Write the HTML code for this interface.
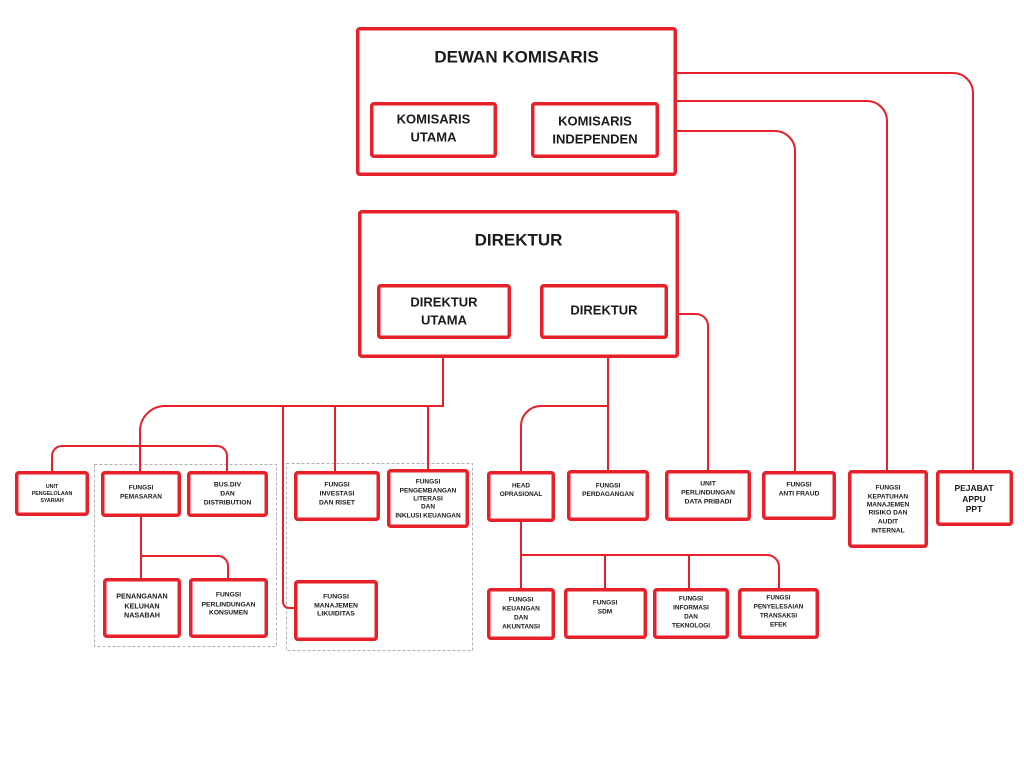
<!DOCTYPE html>
<html><head><meta charset="utf-8"><style>
html,body{margin:0;padding:0;background:#fff;}
svg{display:block;}
text{font-family:"Liberation Sans",sans-serif;font-weight:bold;fill:#1a1a1a;text-anchor:middle;dominant-baseline:central;}
.b{fill:#fff;stroke:#e8202a;stroke-width:3.5;}
.l{fill:none;stroke:#e8202a;stroke-width:2;}
.d{fill:none;stroke:#b0b0b0;stroke-width:1;stroke-dasharray:3,2;}
</style></head><body>
<svg width="1024" height="768" viewBox="0 0 1024 768" xmlns="http://www.w3.org/2000/svg">
<!-- dashed groups -->
<rect class="d" x="94.5" y="464.5" width="182" height="182"/>
<rect class="d" x="286.5" y="463.5" width="186" height="187"/>

<!-- connectors -->
<path class="l" d="M677,73 H953 A20,20 0 0 1 973,93 V470"/>
<path class="l" d="M677,101 H867 A20,20 0 0 1 887,121 V470"/>
<path class="l" d="M677,131 H775 A20,20 0 0 1 795,151 V471"/>
<path class="l" d="M679,314 H696 A12,12 0 0 1 708,326 V470"/>
<path class="l" d="M443,339 V406 H165 A25,25 0 0 0 140,431 V471"/>
<path class="l" d="M283,406 V602 A6,6 0 0 0 289,608 H295"/>
<path class="l" d="M335,406 V471"/>
<path class="l" d="M428,406 V469"/>
<path class="l" d="M52,471 V456 A10,10 0 0 1 62,446 H217 A10,10 0 0 1 227,456 V471"/>
<path class="l" d="M141,516 V578"/>
<path class="l" d="M141,556 H218 A10,10 0 0 1 228,566 V578"/>
<path class="l" d="M608,339 V470"/>
<path class="l" d="M608,406 H541 A20,20 0 0 0 521,426 V471"/>
<path class="l" d="M521,521 V588"/>
<path class="l" d="M521,555 H767 A12,12 0 0 1 779,567 V588"/>
<path class="l" d="M605,555 V588"/>
<path class="l" d="M689,555 V588"/>

<!-- top boxes -->
<rect class="b" x="357.75" y="28.75" width="317.5" height="145.5" rx="2"/>
<text x="516.5" y="57" font-size="17">DEWAN KOMISARIS</text>
<rect class="b" x="371.75" y="103.75" width="123.5" height="52.5" rx="2"/>
<text x="433.5" y="119" font-size="13">KOMISARIS</text>
<text x="433.5" y="137" font-size="13">UTAMA</text>
<rect class="b" x="532.75" y="103.75" width="124.5" height="52.5" rx="2"/>
<text x="595" y="121" font-size="13">KOMISARIS</text>
<text x="595" y="139" font-size="13">INDEPENDEN</text>

<rect class="b" x="359.75" y="211.75" width="317.5" height="144.5" rx="2"/>
<text x="518.5" y="240" font-size="17">DIREKTUR</text>
<rect class="b" x="378.75" y="285.75" width="130.5" height="51.5" rx="2"/>
<text x="444" y="302" font-size="13">DIREKTUR</text>
<text x="444" y="320" font-size="13">UTAMA</text>
<rect class="b" x="541.75" y="285.75" width="124.5" height="51.5" rx="2"/>
<text x="604" y="310" font-size="13">DIREKTUR</text>

<!-- row 1 -->
<rect class="b" x="16.75" y="472.75" width="70.5" height="41.5" rx="2"/>
<text x="52" y="487" font-size="5.3">UNIT</text>
<text x="52" y="494" font-size="5.3">PENGELOLAAN</text>
<text x="52" y="501" font-size="5.3">SYARIAH</text>

<rect class="b" x="102.75" y="472.75" width="76.5" height="42.5" rx="2"/>
<text x="141" y="488" font-size="6.5">FUNGSI</text>
<text x="141" y="497" font-size="6.5">PEMASARAN</text>

<rect class="b" x="188.75" y="472.75" width="77.5" height="42.5" rx="2"/>
<text x="227.5" y="485" font-size="6.7">BUS.DIV</text>
<text x="227.5" y="494" font-size="6.7">DAN</text>
<text x="227.5" y="503" font-size="6.7">DISTRIBUTION</text>

<rect class="b" x="295.75" y="472.75" width="82.5" height="46.5" rx="2"/>
<text x="337" y="485" font-size="6.7">FUNGSI</text>
<text x="337" y="494" font-size="6.7">INVESTASI</text>
<text x="337" y="503" font-size="6.7">DAN  RISET</text>

<rect class="b" x="388.75" y="470.75" width="78.5" height="55.5" rx="2"/>
<text x="428" y="482" font-size="6.5">FUNGSI</text>
<text x="428" y="491" font-size="6.5">PENGEMBANGAN</text>
<text x="428" y="499" font-size="6.5">LITERASI</text>
<text x="428" y="507" font-size="6.5">DAN</text>
<text x="428" y="516" font-size="6.5">INKLUSI KEUANGAN</text>

<rect class="b" x="488.75" y="472.75" width="64.5" height="47.5" rx="2"/>
<text x="521" y="486" font-size="6.4">HEAD</text>
<text x="521" y="494.5" font-size="6.4">OPRASIONAL</text>

<rect class="b" x="568.75" y="471.75" width="78.5" height="47.5" rx="2"/>
<text x="608" y="486" font-size="6.5">FUNGSI</text>
<text x="608" y="494.5" font-size="6.5">PERDAGANGAN</text>

<rect class="b" x="666.75" y="471.75" width="82.5" height="47.5" rx="2"/>
<text x="708" y="484" font-size="6.7">UNIT</text>
<text x="708" y="493" font-size="6.7">PERLINDUNGAN</text>
<text x="708" y="502" font-size="6.7">DATA PRIBADI</text>

<rect class="b" x="763.75" y="472.75" width="70.5" height="45.5" rx="2"/>
<text x="799" y="485" font-size="6.7">FUNGSI</text>
<text x="799" y="494" font-size="6.7">ANTI FRAUD</text>

<rect class="b" x="849.75" y="471.75" width="76.5" height="74.5" rx="2"/>
<text x="888" y="488" font-size="6.6">FUNGSI</text>
<text x="888" y="497" font-size="6.6">KEPATUHAN</text>
<text x="888" y="505" font-size="6.6">MANAJEMEN</text>
<text x="888" y="513" font-size="6.6">RISIKO DAN</text>
<text x="888" y="522" font-size="6.6">AUDIT</text>
<text x="888" y="531" font-size="6.6">INTERNAL</text>

<rect class="b" x="937.75" y="471.75" width="73.5" height="52.5" rx="2"/>
<text x="974" y="488" font-size="8.5">PEJABAT</text>
<text x="974" y="499" font-size="8.5">APPU</text>
<text x="974" y="509" font-size="8.5">PPT</text>

<!-- row 2 -->
<rect class="b" x="104.75" y="579.75" width="74.5" height="56.5" rx="2"/>
<text x="142" y="596" font-size="7.2">PENANGANAN</text>
<text x="142" y="606" font-size="7.2">KELUHAN</text>
<text x="142" y="615" font-size="7.2">NASABAH</text>

<rect class="b" x="190.75" y="579.75" width="75.5" height="56.5" rx="2"/>
<text x="228.5" y="595" font-size="6.7">FUNGSI</text>
<text x="228.5" y="605" font-size="6.7">PERLINDUNGAN</text>
<text x="228.5" y="613" font-size="6.7">KONSUMEN</text>

<rect class="b" x="295.75" y="581.75" width="80.5" height="57.5" rx="2"/>
<text x="336" y="597" font-size="6.8">FUNGSI</text>
<text x="336" y="606" font-size="6.8">MANAJEMEN</text>
<text x="336" y="614" font-size="6.8">LIKUIDITAS</text>

<rect class="b" x="488.75" y="589.75" width="64.5" height="48.5" rx="2"/>
<text x="521" y="600" font-size="6.5">FUNGSI</text>
<text x="521" y="609" font-size="6.5">KEUANGAN</text>
<text x="521" y="618" font-size="6.5">DAN</text>
<text x="521" y="627" font-size="6.5">AKUNTANSI</text>

<rect class="b" x="565.75" y="589.75" width="79.5" height="47.5" rx="2"/>
<text x="605" y="603" font-size="6.5">FUNGSI</text>
<text x="605" y="612" font-size="6.5">SDM</text>

<rect class="b" x="654.75" y="589.75" width="72.5" height="47.5" rx="2"/>
<text x="691" y="599" font-size="6.4">FUNGSI</text>
<text x="691" y="608" font-size="6.4">INFORMASI</text>
<text x="691" y="617" font-size="6.4">DAN</text>
<text x="691" y="626" font-size="6.4">TEKNOLOGI</text>

<rect class="b" x="739.75" y="589.75" width="77.5" height="47.5" rx="2"/>
<text x="778.5" y="598" font-size="6.4">FUNGSI</text>
<text x="778.5" y="607" font-size="6.4">PENYELESAIAN</text>
<text x="778.5" y="616" font-size="6.4">TRANSAKSI</text>
<text x="778.5" y="625" font-size="6.4">EFEK</text>
</svg>
</body></html>
